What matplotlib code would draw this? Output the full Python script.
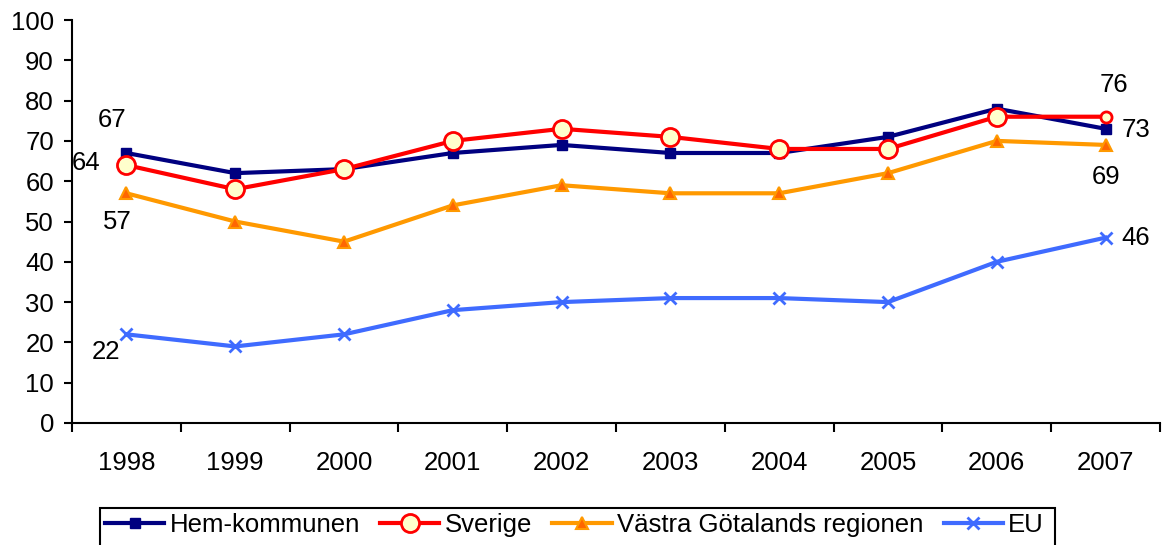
import matplotlib.pyplot as plt
from matplotlib.patches import Rectangle
import numpy as np

plt.rcParams['font.family'] = ['Liberation Sans', 'DejaVu Sans']

# data
years = ['1998', '1999', '2000', '2001', '2002', '2003', '2004', '2005', '2006', '2007']
hem = [67, 62, 63, 67, 69, 67, 67, 71, 78, 73]
sverige = [64, 58, 63, 70, 73, 71, 68, 68, 76, 76]
vastra = [57, 50, 45, 54, 59, 57, 57, 62, 70, 69]
eu = [22, 19, 22, 28, 30, 31, 31, 30, 40, 46]

fs = 18.5
x = np.arange(len(years))

W, H = 1164, 545
fig = plt.figure(figsize=(W/100, H/100), dpi=100)
ax = fig.add_axes([72/W, 1-423/H, (1160-72)/W, (423-20)/H])

ax.plot(x, hem, color='#000080', lw=3, marker='s', ms=7, label='Hem-kommunen')
ax.plot(x, sverige, color='#FF0000', lw=3, marker='o', ms=13, mfc='#FFFFCC',
        mec='#FF0000', mew=2, markevery=list(range(len(x) - 1)), label='Sverige')
# last Sverige point has a smaller marker
ax.plot(x[-1:], sverige[-1:], ls='none', marker='o', ms=8, mfc='#FFFFCC', mec='#FF0000', mew=2)
ax.plot(x, vastra, color='#FF9900', lw=3, marker='^', ms=9, mfc='#FF6600',
        mec='#FF9900', mew=1.5, label='Västra Götalands regionen')
ax.plot(x, eu, color='#3F6BFF', lw=3, marker='x', ms=9, mew=2, label='EU')

# data labels
labels = [
    (0, hem[0], (-14, 33)), (0, sverige[0], (-40, 2)),
    (0, vastra[0], (-9, -29)), (0, eu[0], (-20, -18)),
    (9, hem[9], (30, -1)), (9, sverige[9], (8, 32)),
    (9, vastra[9], (0, -32)), (9, eu[9], (30, 0)),
]
for i, v, off in labels:
    ax.annotate(str(v), (x[i], v), xytext=off, textcoords='offset pixels',
                ha='center', va='center', fontsize=fs)

ax.set_xlim(-0.5, 9.5)
ax.set_ylim(0, 100)
ax.set_yticks(range(0, 101, 10))
ax.set_xticks(np.arange(-0.5, 10, 1))
ax.set_xticklabels([])
ax.set_xticks(x, minor=True)
ax.set_xticklabels(years, minor=True)
ax.tick_params(axis='x', which='minor', length=0, pad=20, labelsize=fs)
ax.tick_params(axis='x', which='major', length=6.5, width=1.5, direction='out')
ax.tick_params(axis='y', length=6, width=1.5, direction='out', labelsize=fs, pad=7)

for s in ['top', 'right']:
    ax.spines[s].set_visible(False)
for s in ['left', 'bottom']:
    ax.spines[s].set_linewidth(1.5)

leg = fig.legend(loc='upper left', bbox_to_anchor=(100/W, 1-508/H), ncol=4,
                 fontsize=fs, frameon=False,
                 handlelength=2.3, handletextpad=0.2, columnspacing=0.8,
                 borderpad=0.2, borderaxespad=0)
# legend frame runs off the bottom edge
fig.add_artist(Rectangle((100/W, -0.02), (1055-100)/W, 1-508/H + 0.02,
                         transform=fig.transFigure, fill=False, ec='black', lw=1.5))

fig.savefig('out.png', dpi=100)
